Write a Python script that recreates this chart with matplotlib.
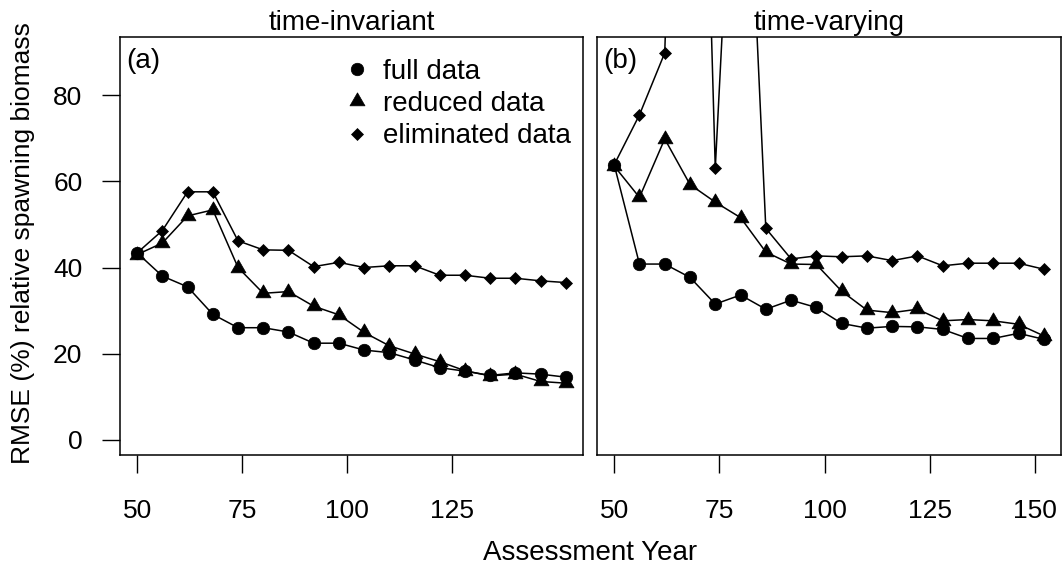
import matplotlib
matplotlib.use("Agg")
import matplotlib.pyplot as plt
from matplotlib.lines import Line2D

plt.rcParams['font.family'] = ['Liberation Sans', 'DejaVu Sans']

# assessment years and RMSE (%) of relative spawning biomass
years = [50, 56, 62, 68, 74, 80, 86, 92, 98, 104, 110, 116, 122, 128, 134, 140, 146, 152]

inv_full = [43.4, 38.0, 35.5, 29.1, 26.0, 26.0, 25.0, 22.4, 22.4, 20.8, 20.2, 18.5,
            16.7, 15.9, 14.9, 15.5, 15.2, 14.5]
inv_reduced = [43.0, 45.7, 52.0, 53.4, 40.0, 34.0, 34.4, 31.0, 29.0, 24.9, 21.8, 19.9,
               18.1, 16.0, 14.8, 15.2, 13.5, 13.1]
inv_elim = [43.4, 48.6, 57.6, 57.6, 46.2, 44.1, 44.0, 40.2, 41.2, 40.0, 40.4, 40.4,
            38.2, 38.2, 37.5, 37.5, 36.9, 36.5]

var_full = [63.9, 40.8, 40.8, 37.7, 31.5, 33.6, 30.3, 32.4, 30.7, 27.0, 25.9, 26.3,
            26.2, 25.6, 23.5, 23.5, 24.7, 23.3]
var_reduced = [63.6, 56.3, 69.9, 59.3, 55.2, 51.6, 43.6, 40.8, 40.7, 34.5, 30.1, 29.5,
               30.3, 27.6, 27.9, 27.6, 26.8, 24.1]
var_elim = [63.9, 75.5, 89.9, 270.0, 63.1, 178.0, 49.1, 42.0, 42.7, 42.5, 42.7, 41.6,
            42.7, 40.4, 41.0, 41.0, 41.0, 39.6]

panel_titles = ['time-invariant', 'time-varying']
panel_tags = ['(a)', '(b)']
series_labels = ['full data', 'reduced data', 'eliminated data']
xticks_a = [50, 75, 100, 125]
xticks_b = [50, 75, 100, 125, 150]
yticks = [0, 20, 40, 60, 80]

W, H = 1063, 571
FS = 20       # titles, legend, x label
FS_TICK = 19  # tick labels, y label

# R-style triangle (pch 17): centred on the circumcentre
tri = [(0, 1), (-0.866, -0.5), (0.866, -0.5), (0, 1)]
styles = [dict(marker='o', ms=9),
          dict(marker=tri, ms=12.5),
          dict(marker='D', ms=6.5)]


def px_box(l, t, r, b):
    return [l / W, 1 - b / H, (r - l) / W, (b - t) / H]


fig = plt.figure(figsize=(W / 100, H / 100), dpi=100)
ax_a = fig.add_axes(px_box(120, 37, 583, 455))
ax_b = fig.add_axes(px_box(597, 37, 1061, 455))

panels = [(ax_a, [inv_full, inv_reduced, inv_elim], xticks_a),
          (ax_b, [var_full, var_reduced, var_elim], xticks_b)]

for i, (ax, series, xt) in enumerate(panels):
    for vals, st in zip(series, styles):
        ax.plot(years, vals, color='black', lw=1.1, mfc='black', mec='black',
                mew=0.5, **st)
    ax.set_xlim(45.92, 156.08)
    ax.set_ylim(-3.6, 93.6)
    ax.set_xticks(xt)
    ax.tick_params(axis='x', length=13, width=1.0, pad=19, labelsize=FS_TICK)
    if i == 0:
        ax.set_yticks(yticks)
        ax.tick_params(axis='y', length=13, width=1.0, pad=14, labelsize=FS_TICK)
    else:
        ax.tick_params(axis='y', left=False, labelleft=False)
    for sp in ax.spines.values():
        sp.set_linewidth(1.1)
    ax.text(0.013, 0.925, panel_tags[i], transform=ax.transAxes, fontsize=FS,
            ha='left', va='baseline')
    ax.text(0.5, 1.017, panel_titles[i], transform=ax.transAxes, fontsize=FS,
            ha='center', va='baseline')

handles = [Line2D([], [], color='black', linestyle='none', mfc='black', mec='black',
                  mew=0.5, **st) for st in styles]
ax_a.legend(handles, series_labels, loc='upper left',
            bbox_to_anchor=(343.1 / W, 1 - 58.7 / H), bbox_transform=fig.transFigure,
            frameon=False, fontsize=FS, handlelength=1.0, handletextpad=0.435,
            labelspacing=0.23, borderpad=0, borderaxespad=0)

fig.text(590 / W, 1 - 553 / H, 'Assessment Year', fontsize=FS, ha='center', va='center')
fig.text(23 / W, 1 - 243 / H, 'RMSE (%) relative spawning biomass', fontsize=FS_TICK,
         ha='center', va='center', rotation=90)

fig.savefig('out.png', dpi=100, facecolor='white')
